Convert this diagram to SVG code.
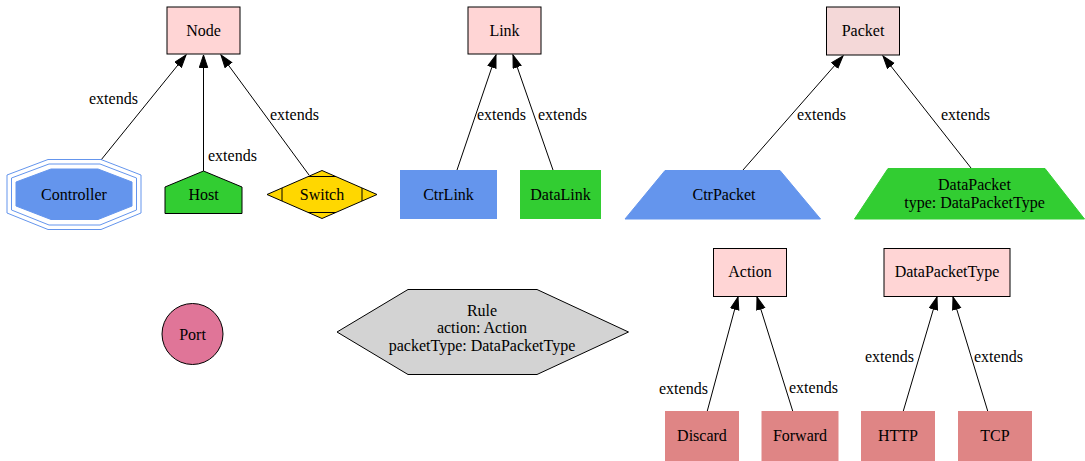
<svg xmlns="http://www.w3.org/2000/svg" width="1085" height="461" viewBox="0 0 1085 461">
<style>
text{font-family:'Liberation Serif','Times New Roman',serif;font-size:16px;fill:#000;text-anchor:middle}
.lbl{text-anchor:start}
.base{fill:#FFD5D5;stroke:#000;stroke-width:1}
.leaf{fill:#DF8585;stroke:#DF8585}
.blue{fill:#6495ED;stroke:#6495ED}
.green{fill:#32CD32;stroke:#32CD32}
.edge{stroke:#000;stroke-width:1;fill:none;marker-end:url(#arr)}
</style>
<defs>
<marker id="arr" markerUnits="userSpaceOnUse" markerWidth="14" markerHeight="11" refX="13" refY="4.7" orient="auto">
<path d="M0.5,0.5 L13,4.7 L0.5,8.9 z" fill="#000" stroke="#000" stroke-width="1"/>
</marker>
</defs>
<rect width="1085" height="461" fill="#fff"/>

<g id="connectors">
<line class="edge" x1="101" y1="160" x2="186" y2="55"/>
<text class="lbl" x="89" y="104">extends</text>
<line class="edge" x1="203.5" y1="171" x2="203.5" y2="55"/>
<text class="lbl" x="208" y="161">extends</text>
<line class="edge" x1="309" y1="175" x2="221" y2="55"/>
<text class="lbl" x="270" y="120">extends</text>

<line class="edge" x1="457" y1="170" x2="496" y2="55"/>
<text class="lbl" x="477" y="120">extends</text>
<line class="edge" x1="553" y1="170" x2="513" y2="55"/>
<text class="lbl" x="538" y="120">extends</text>

<line class="edge" x1="743" y1="170" x2="843" y2="56"/>
<text class="lbl" x="797" y="120">extends</text>
<line class="edge" x1="971" y1="168" x2="883" y2="56"/>
<text class="lbl" x="941" y="120">extends</text>

<line class="edge" x1="707" y1="412" x2="738" y2="297"/>
<text class="lbl" x="659" y="394">extends</text>
<line class="edge" x1="793" y1="412" x2="757" y2="297"/>
<text class="lbl" x="789" y="393">extends</text>
<line class="edge" x1="903" y1="412" x2="937" y2="297"/>
<text class="lbl" x="865" y="362">extends</text>
<line class="edge" x1="988" y1="412" x2="953" y2="297"/>
<text class="lbl" x="974" y="362">extends</text>
</g>

<g id="node-Node">
<rect class="base" x="167" y="7" width="73" height="47"/>
<text x="203.5" y="35.5">Node</text>
</g>
<g id="node-Controller">
<polygon points="48,159.5 101,159.5 141,175 141,213 101,229.5 48,229.5 7,213 7,175" fill="none" stroke="#6495ED"/>
<polygon points="49,164 100,164 136.5,178 136.5,210 100,225 49,225 11.5,210 11.5,178" fill="none" stroke="#6495ED"/>
<polygon class="blue" points="51,169 98,169 132,182 132,206 98,219.5 51,219.5 16,206 16,182"/>
<text x="74" y="199.5">Controller</text>
</g>
<g id="node-Host">
<polygon points="203.5,171 242,187 242,213.5 165,213.5 165,187" fill="#32CD32" stroke="#000"/>
<text x="203.5" y="199.5">Host</text>
</g>
<g id="node-Switch">
<polygon points="322,170.5 377,194.5 322,218.5 267,194.5" fill="#FFD700" stroke="#000"/>
<path d="M308,176.5 L336,176.5 M308,212.5 L336,212.5 M282,188 L282,201 M362,188 L362,201" stroke="#000" fill="none"/>
<text x="322" y="199.5">Switch</text>
</g>

<g id="node-Link">
<rect class="base" x="468" y="7" width="73" height="47"/>
<text x="504.5" y="35.5">Link</text>
</g>
<g id="node-CtrLink">
<rect class="blue" x="400.5" y="170.5" width="96" height="48"/>
<text x="448.5" y="199.5">CtrLink</text>
</g>
<g id="node-DataLink">
<rect class="green" x="520.5" y="170.5" width="80" height="48"/>
<text x="560.5" y="199.5">DataLink</text>
</g>

<g id="node-Packet">
<rect x="826.5" y="7" width="73" height="48" fill="#F4D8D8" stroke="#000"/>
<text x="863" y="35.5">Packet</text>
</g>
<g id="node-CtrPacket">
<polygon class="blue" points="665,170.5 780,170.5 820.5,219 625,219"/>
<text x="724" y="199.5">CtrPacket</text>
</g>
<g id="node-DataPacket">
<polygon class="green" points="888,168.5 1045,168.5 1084.5,219 854.5,219"/>
<text x="974.5" y="190">DataPacket</text>
<text x="974.5" y="208">type: DataPacketType</text>
</g>

<g id="node-Port">
<circle cx="192.5" cy="334" r="30.5" fill="#E07598" stroke="#000"/>
<text x="192.5" y="339.5">Port</text>
</g>
<g id="node-Rule">
<polygon points="408,289.5 537,289.5 628.5,332 537,374.5 408,374.5 337,332" fill="#D3D3D3" stroke="#000"/>
<text x="482" y="316">Rule</text>
<text x="482" y="333">action: Action</text>
<text x="482" y="351">packetType: DataPacketType</text>
</g>

<g id="node-Action">
<rect class="base" x="713.5" y="248.5" width="73" height="48"/>
<text x="750" y="277">Action</text>
</g>
<g id="node-DataPacketType">
<rect class="base" x="884" y="248.5" width="126" height="48"/>
<text x="947" y="277">DataPacketType</text>
</g>
<g id="node-Discard">
<rect class="leaf" x="665.5" y="411.5" width="73" height="49"/>
<text x="702" y="441">Discard</text>
</g>
<g id="node-Forward">
<rect class="leaf" x="762" y="411.5" width="76" height="49"/>
<text x="800" y="441">Forward</text>
</g>
<g id="node-HTTP">
<rect class="leaf" x="861.5" y="411.5" width="73" height="49"/>
<text x="898" y="441">HTTP</text>
</g>
<g id="node-TCP">
<rect class="leaf" x="958.5" y="411.5" width="73" height="49"/>
<text x="995" y="441">TCP</text>
</g>
</svg>
